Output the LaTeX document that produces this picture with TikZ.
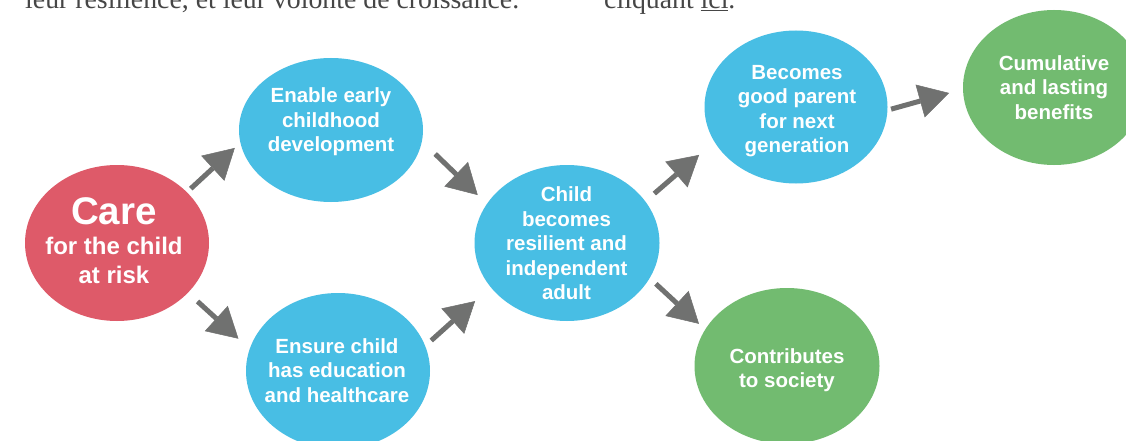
\documentclass[tikz,border=0pt]{standalone}
\usepackage{fontspec}
\setmainfont{Liberation Sans}
\newfontfamily\topserif{Liberation Serif}
\usetikzlibrary{shapes.geometric,arrows.meta}
\definecolor{carered}{RGB}{222,90,105}
\definecolor{stepblue}{RGB}{72,190,228}
\definecolor{stepgreen}{RGB}{114,187,112}
\definecolor{arrowgray}{RGB}{112,113,112}
\definecolor{topgray}{RGB}{70,70,70}
\tikzset{
  blob/.style={ellipse, draw=none, inner sep=0pt, outer sep=0pt},
  lbl/.style={text=white, align=center, inner sep=0pt,
    font=\fontsize{20.5}{24.5}\selectfont\bfseries},
  carelbl/.style={text=white, inner sep=0pt, anchor=base},
  arr/.style={draw=arrowgray, line width=5pt,
    -{Triangle[length=30pt,width=34pt,line width=0.5pt]}},
  toptext/.style={anchor=base west, inner sep=0pt, text=topgray,
    font=\topserif\fontsize{27.8}{30}\selectfont}
}
\begin{document}
\begin{tikzpicture}[x=1pt,y=-1pt]
\clip (0,0) rectangle (1126,441);
\fill[white] (0,0) rectangle (1126,441);

% top text (cut off by the frame)
\node[toptext] (topA) at (25,9) {leur résilience, et leur volonté de croissance.};
\node[toptext] (topB) at (604,9) {cliquant \underline{ici}.};

% shapes
\node[blob, fill=carered, minimum width=184pt, minimum height=156pt] (care) at (117,243) {};
\node[blob, fill=stepblue, minimum width=184pt, minimum height=144pt] (enable) at (331,130) {};
\node[blob, fill=stepblue, minimum width=184pt, minimum height=156pt] (ensure) at (338,371) {};
\node[blob, fill=stepblue, minimum width=185pt, minimum height=156pt] (child) at (567,243) {};
\node[blob, fill=stepblue, minimum width=183pt, minimum height=153pt] (parent) at (796,107) {};
\node[blob, fill=stepgreen, minimum width=182pt, minimum height=155pt] (cumul) at (1054,87.5) {};
\node[blob, fill=stepgreen, minimum width=185pt, minimum height=156pt] (society) at (787,366) {};

% labels
\node[carelbl, font=\fontsize{38.5}{40}\selectfont\bfseries] (careA) at (114,224) {Care};
\node[carelbl, font=\fontsize{24}{29}\selectfont\bfseries] (careB) at (114,254) {for the child};
\node[carelbl, font=\fontsize{24}{29}\selectfont\bfseries] (careC) at (114,283) {at risk};
\node[lbl] (enableT) at (331,122) {Enable early\\childhood\\development};
\node[lbl] (ensureT) at (337,370.5) {Ensure child\\has education\\and healthcare};
\node[lbl] (childT) at (566.5,243.5) {Child\\becomes\\resilient and\\independent\\adult};
\node[lbl] (parentT) at (797,111) {Becomes\\good parent\\for next\\generation};
\node[lbl] (cumulT) at (1054,87.5) {Cumulative\\and lasting\\benefits};
\node[lbl] (societyT) at (787,370.3) {Contributes\\to society};

% connectors
\draw[arr, shorten <=5.3pt, shorten >=7.7pt] (care.36.7) -- (enable.188.8);
\draw[arr, shorten <=18.5pt, shorten >=12.8pt] (enable.-7.6) -- (child.154.8);
\draw[arr, shorten <=13pt, shorten >=15.3pt] (care.-35.5) -- (ensure.166.9);
\draw[arr, shorten <=8.2pt, shorten >=21pt] (ensure.16.4) -- (child.210);
\draw[arr, shorten <=12pt, shorten >=20.3pt] (child.28.5) -- (parent.203.2);
\draw[arr, shorten <=8.5pt, shorten >=8.5pt] (child.-23) -- (society.156.1);
\draw[arr, shorten <=3.8pt, shorten >=14.5pt] (parent.-2.5) -- (cumul.181.6);
\end{tikzpicture}
\end{document}
